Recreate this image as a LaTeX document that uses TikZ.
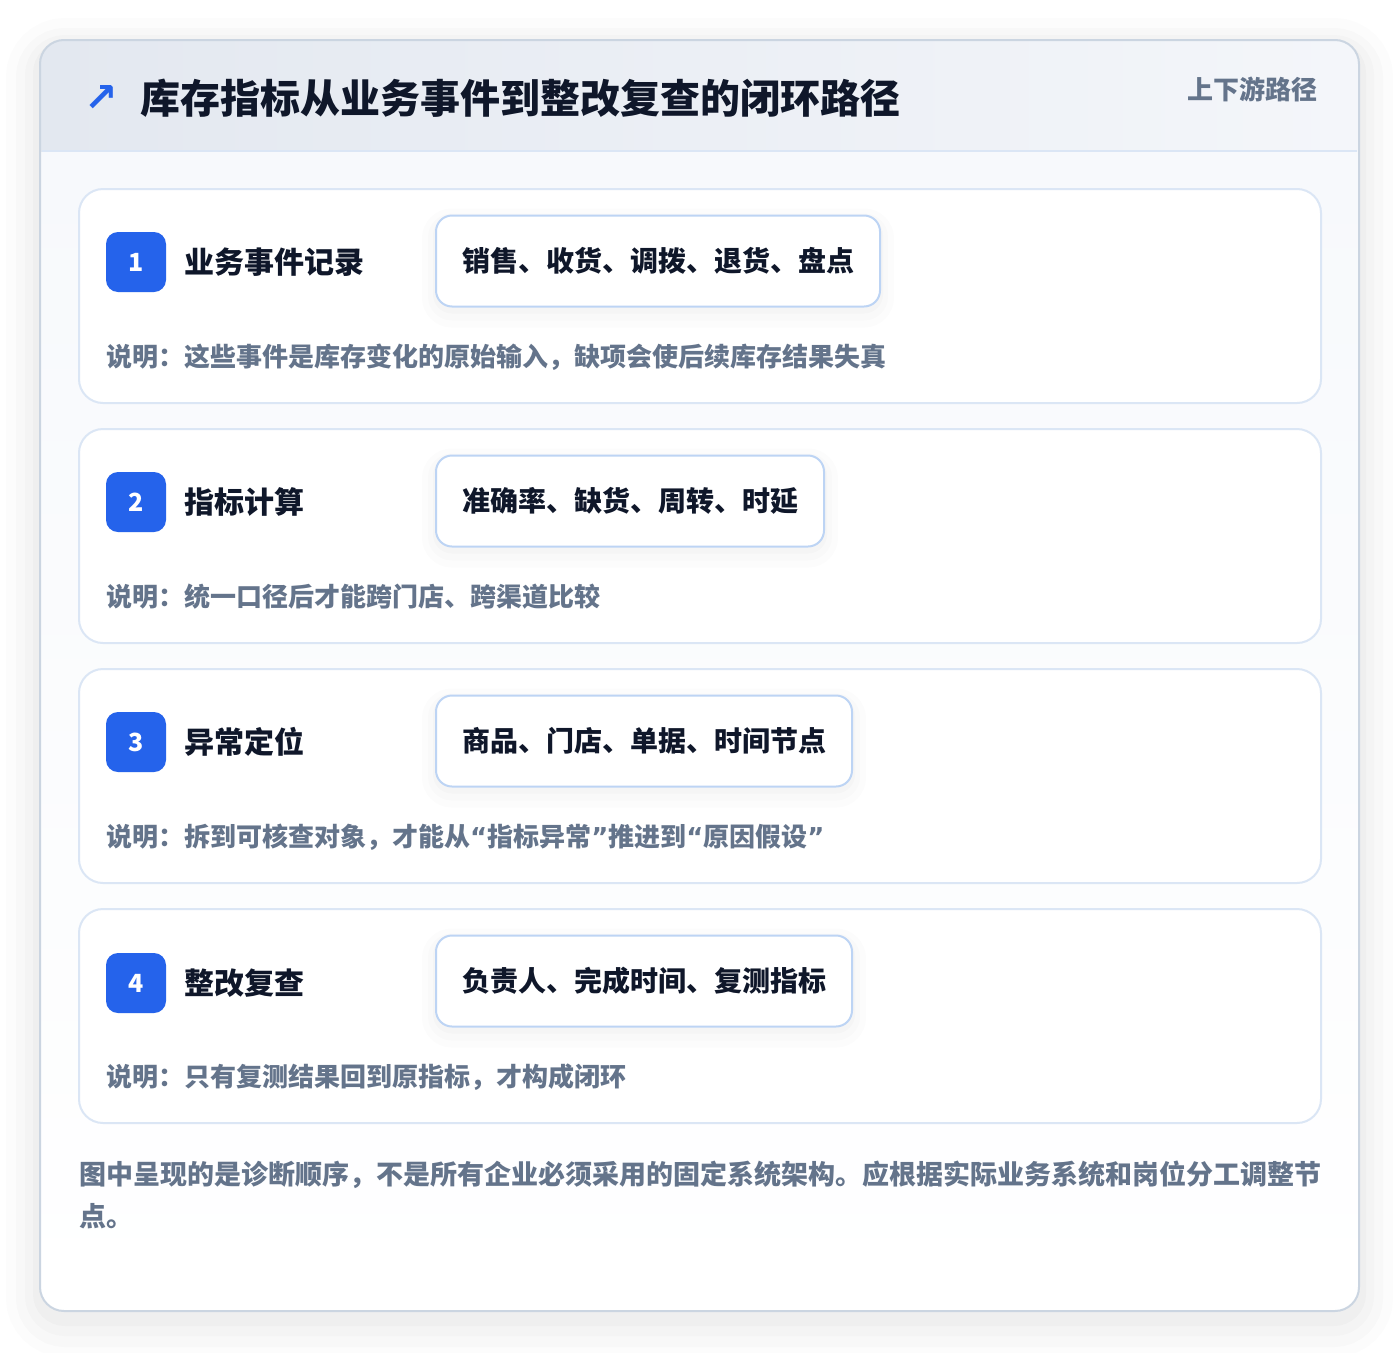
\documentclass[tikz,border=0pt]{standalone}
\usepackage{fontspec}
\setmainfont{Noto Sans CJK SC}
\newfontfamily\symfont{DejaVu Sans}
\newcommand{\openq}{{\symfont “}}
\newcommand{\closeq}{{\symfont ”}}
\usetikzlibrary{positioning}
\definecolor{ink}{HTML}{0F172A}
\definecolor{slate}{HTML}{64748B}
\definecolor{accent}{HTML}{2563EB}
\definecolor{panelline}{HTML}{CBD5E1}
\definecolor{cardline}{HTML}{DBE6F5}
\definecolor{chipline}{HTML}{BDD4F4}
\definecolor{hdleft}{HTML}{E3E8F0}
\definecolor{hdright}{HTML}{F4F6FA}
\definecolor{bodytop}{HTML}{F7F9FC}
\tikzset{
    panel/.style={%
        draw=panelline, line width=2pt, fill=white,
        rounded corners=24pt,
        minimum width=1317pt, minimum height=1269pt,
        preaction={draw=black, draw opacity=0.012, line width=70pt, transform canvas={yshift=-12pt}},
        preaction={draw=black, draw opacity=0.014, line width=50pt, transform canvas={yshift=-12pt}},
        preaction={draw=black, draw opacity=0.016, line width=32pt, transform canvas={yshift=-10pt}},
        preaction={draw=black, draw opacity=0.018, line width=16pt, transform canvas={yshift=-8pt}}
        },
    stepcard/.style={%
        draw=cardline, line width=2pt, fill=white,
        rounded corners=24pt,
        minimum width=1242pt, minimum height=214pt
        },
    badge/.style={%
        fill=accent, rounded corners=12pt,
        minimum size=60pt, inner sep=0pt,
        text=white, font=\fontsize{25}{30}\selectfont\bfseries
        },
    steptitle/.style={%
        anchor=west, inner sep=0pt,
        text=ink, font=\fontsize{30}{36}\selectfont\bfseries
        },
    chip/.style={%
        draw=chipline, line width=2pt, fill=white,
        rounded corners=16pt, anchor=west,
        minimum height=91pt, inner xsep=26pt,
        text=ink, font=\fontsize{28}{34}\selectfont\bfseries,
        preaction={draw=black, draw opacity=0.010, line width=28pt, transform canvas={yshift=-7pt}},
        preaction={draw=black, draw opacity=0.012, line width=16pt, transform canvas={yshift=-6pt}},
        preaction={draw=black, draw opacity=0.014, line width=6pt, transform canvas={yshift=-4pt}}
        },
    note/.style={%
        anchor=west, inner sep=0pt,
        text=slate, font=\fontsize{26}{31}\selectfont\bfseries
        }
}

\begin{document}
\begin{tikzpicture}[x=1pt, y=-1pt]

\useasboundingbox[fill=white] (0,0) rectangle (1400,1352);

\node[panel] (Panel) at (699.5,675.5) {};

\begin{scope}
\clip[rounded corners=24pt] (Panel.south west) rectangle (Panel.north east);
\shade[top color=bodytop, bottom color=white] (41,151) rectangle (1358,1310);
\shade[left color=hdleft, right color=hdright] (41,41) rectangle (1358,151);
\end{scope}
\draw[cardline, line width=2pt] (42,151) -- (1357,151);
\draw[panelline, line width=2pt, rounded corners=24pt] (Panel.south west) rectangle (Panel.north east);

\node[text=accent, font=\symfont\bfseries\fontsize{40}{44}\selectfont] (Icon) at (101,98) {↗};
\node[anchor=west, inner sep=0pt, text=ink, font=\fontsize{40}{48}\selectfont\bfseries] (Title) at (140,98) {库存指标从业务事件到整改复查的闭环路径};
\node[anchor=east, inner sep=0pt, text=slate, font=\fontsize{26}{31}\selectfont\bfseries] (Tag) at (1318,89) {上下游路径};

% step 1
\node[stepcard] (S1) at (700,296) {};
\node[badge] (B1) at (136,262) {1};
\node[steptitle, right=18pt of B1] (T1) {业务事件记录};
\node[chip] (C1) at (435,261) {销售、收货、调拨、退货、盘点};
\node[note] (N1) at (106,357) {说明：这些事件是库存变化的原始输入，缺项会使后续库存结果失真};

% step 2
\node[stepcard] (S2) at (700,536) {};
\node[badge] (B2) at (136,502) {2};
\node[steptitle, right=18pt of B2] (T2) {指标计算};
\node[chip] (C2) at (435,501) {准确率、缺货、周转、时延};
\node[note] (N2) at (106,597) {说明：统一口径后才能跨门店、跨渠道比较};

% step 3
\node[stepcard] (S3) at (700,776) {};
\node[badge] (B3) at (136,742) {3};
\node[steptitle, right=18pt of B3] (T3) {异常定位};
\node[chip] (C3) at (435,741) {商品、门店、单据、时间节点};
\node[note] (N3) at (106,837) {说明：拆到可核查对象，才能从\openq 指标异常\closeq 推进到\openq 原因假设\closeq};

% step 4
\node[stepcard] (S4) at (700,1016) {};
\node[badge] (B4) at (136,983) {4};
\node[steptitle, right=18pt of B4] (T4) {整改复查};
\node[chip] (C4) at (435,981) {负责人、完成时间、复测指标};
\node[note] (N4) at (106,1077) {说明：只有复测结果回到原指标，才构成闭环};

\node[anchor=north west, inner sep=0pt, align=left, text=slate, font=\fontsize{27}{42}\selectfont\bfseries] (Foot) at (79,1161) {图中呈现的是诊断顺序，不是所有企业必须采用的固定系统架构。应根据实际业务系统和岗位分工调整节\\点。};

\end{tikzpicture}
\end{document}
